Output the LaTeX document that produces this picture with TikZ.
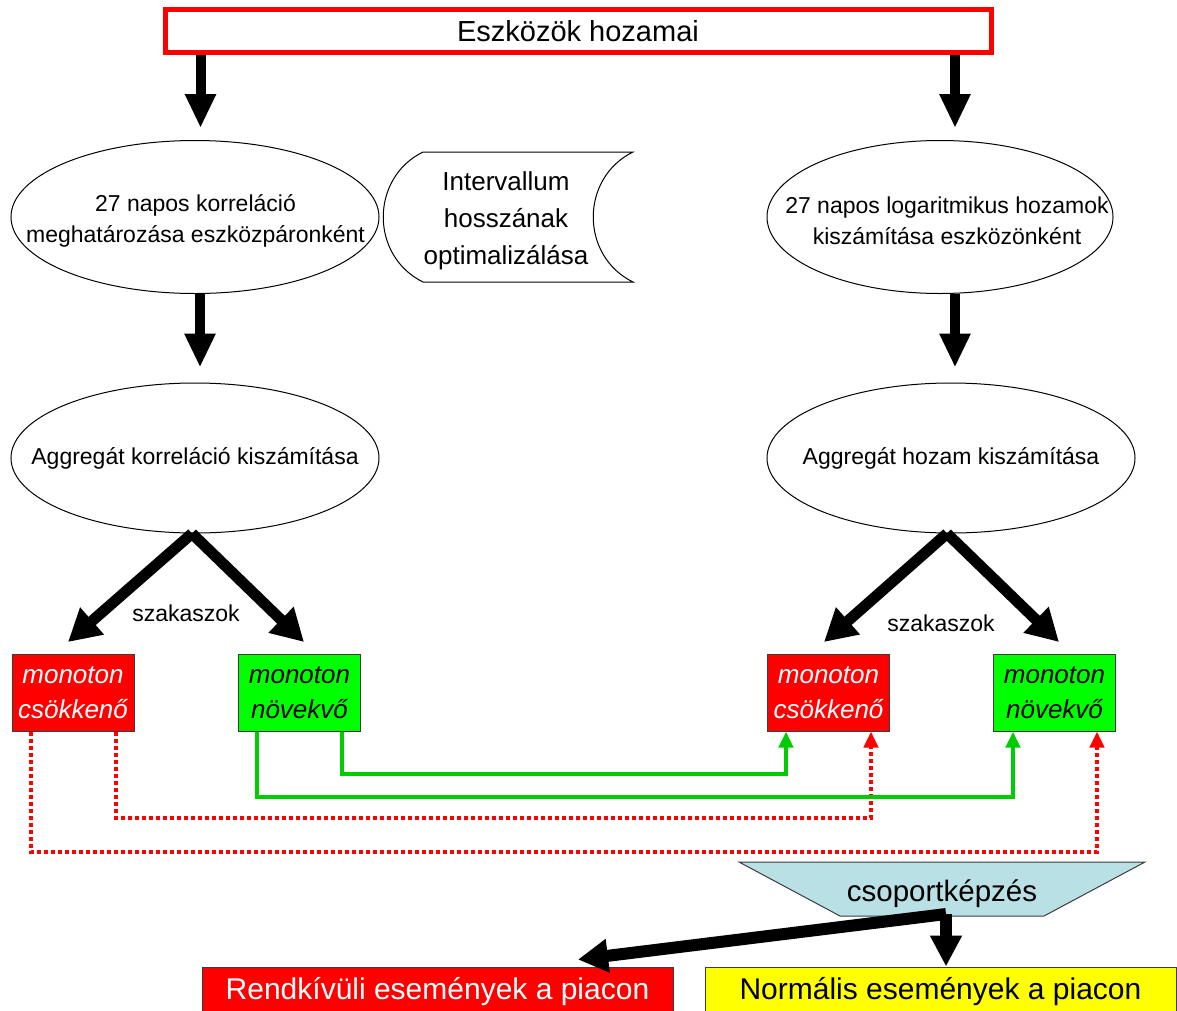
\documentclass[tikz,border=0pt]{standalone}
\usepackage{fontspec}
\setmainfont{Liberation Sans}
\usetikzlibrary{arrows.meta,shapes.geometric}
\definecolor{boxred}{RGB}{255,0,0}
\definecolor{boxgreen}{RGB}{0,255,0}
\definecolor{linegreen}{RGB}{0,204,0}
\definecolor{trapblue}{RGB}{185,224,228}
\definecolor{edgegray}{RGB}{60,60,60}
\definecolor{boxyellow}{RGB}{255,255,0}
\begin{document}
\begin{tikzpicture}[x=1pt,y=-1pt,
  ellshape/.style={ellipse, draw, line width=1pt, inner sep=0pt},
  etext/.style={align=center, inner sep=0pt, font=\fontsize{23}{31}\selectfont},
  bigarrow/.style={line width=10pt, -{Triangle[width=29pt,length=34pt]}},
  diagarrow/.style={line width=11pt, -{Triangle[width=34pt,length=32pt]}},
  segbox/.style={draw=edgegray, line width=1pt, minimum width=122pt, minimum height=77pt, inner sep=0pt, align=center, font=\itshape\fontsize{26}{35}\selectfont},
  decbox/.style={segbox, fill=boxred, text=white},
  incbox/.style={segbox, fill=boxgreen, text=black},
  grnlink/.style={color=linegreen, line width=4pt, -{Triangle[width=14pt,length=16pt]}},
  redlink/.style={color=boxred, line width=4pt, dash pattern=on 4pt off 3pt, -{Triangle[width=14pt,length=16pt]}},
  evbox/.style={draw=edgegray, line width=1pt, minimum width=471pt, minimum height=50pt, inner sep=0pt, font=\fontsize{30}{36}\selectfont}
]
\useasboundingbox (0,0) rectangle (1177,1010);

% top box
\node[draw=boxred, line width=5pt, minimum width=826pt, minimum height=43pt, inner sep=0pt,
      font=\fontsize{29}{34}\selectfont] (top) at (578,31) {Eszközök hozamai};

% ellipses
\node[ellshape, minimum width=368pt, minimum height=153pt] (e1) at (195,217) {};
\node[etext] (e1t) at (195.5,221) {27 napos korreláció\\meghatározása eszközpáronként};
\node[ellshape, minimum width=346pt, minimum height=153pt] (e2) at (940,217) {};
\node[etext] (e2t) at (947,221) {27 napos logaritmikus hozamok\\kiszámítása eszközönként};
\node[ellshape, minimum width=368pt, minimum height=150pt] (e3) at (195,458) {};
\node[etext] (e3t) at (195,458) {Aggregát korreláció kiszámítása};
\node[ellshape, minimum width=368pt, minimum height=150pt] (e4) at (951,458) {};
\node[etext] (e4t) at (951,458) {Aggregát hozam kiszámítása};

% interval optimisation shape
\draw[line width=1pt] (423,152) -- (633,152) .. controls (580,178) and (580,256) .. (633,282)
   -- (423,282) .. controls (370,256) and (370,178) .. (423,152) -- cycle;
\node[align=center, inner sep=0pt, font=\fontsize{26}{37}\selectfont] (iv) at (506,220.5)
   {Intervallum\\hosszának\\optimalizálása};

% vertical arrows
\draw[bigarrow] ([xshift=-377.5pt]top.south) -- ([xshift=5.5pt,yshift=12pt]e1.north);
\draw[bigarrow] ([xshift=377pt]top.south) -- ([xshift=15pt,yshift=12pt]e2.north);
\draw[bigarrow] ([xshift=5pt]e1.south) -- ([xshift=5pt,yshift=15pt]e3.north);
\draw[bigarrow] ([xshift=15pt]e2.south) -- ([xshift=4pt,yshift=15pt]e4.north);

% segment boxes
\node[decbox] (r1) at (73,692.5) {monoton\\csökkenő};
\node[incbox] (g1) at (299.5,692.5) {monoton\\növekvő};
\node[decbox] (r2) at (828.5,692.5) {monoton\\csökkenő};
\node[incbox] (g2) at (1054.5,692.5) {monoton\\növekvő};

% diagonal arrows
\draw[diagarrow] ([xshift=-3pt]e3.south) -- ([xshift=-5pt,yshift=11.5pt]r1.north);
\draw[diagarrow] ([xshift=-3pt]e3.south) -- ([xshift=4.5pt,yshift=11.5pt]g1.north);
\draw[diagarrow] ([xshift=-4pt]e4.south) -- ([xshift=-4.5pt,yshift=11.5pt]r2.north);
\draw[diagarrow] ([xshift=-4pt]e4.south) -- ([xshift=4.5pt,yshift=11.5pt]g2.north);
\node[etext] (sz1) at (186,613) {szakaszok};
\node[etext] (sz2) at (941,623) {szakaszok};

% links
\draw[redlink] ([xshift=-42pt]r1.south) -- ++(0,120) -| ([xshift=42.5pt]g2.south);
\draw[redlink] ([xshift=43pt]r1.south) -- ++(0,86) -| ([xshift=42.5pt]r2.south);
\draw[grnlink] ([xshift=-42.5pt]g1.south) -- ++(0,65) -| ([xshift=-41.5pt]g2.south);
\draw[grnlink] ([xshift=42.5pt]g1.south) -- ++(0,42) -| ([xshift=-42.5pt]r2.south);

% grouping trapezoid
\draw[draw=edgegray, line width=1pt, fill=trapblue] (739,862) -- (1145,862) -- (1044,916) -- (840,916) -- cycle;
\node[inner sep=0pt, font=\fontsize{29.5}{36}\selectfont] (cs) at (942,894) {csoportképzés};

% event boxes
\node[evbox, fill=boxred, text=white] (rare) at (437.5,992) {Rendkívüli események a piacon};
\node[evbox, fill=boxyellow] (norm) at (940.5,992) {Normális események a piacon};

% bottom arrows
\draw[line width=12pt, -{Triangle[width=32pt,length=30pt]}] ([xshift=4pt,yshift=-20pt]cs.center) -- ([xshift=140.5pt,yshift=7pt]rare.north);
\draw[line width=12pt, -{Triangle[width=30pt,length=31pt]}] ([xshift=4pt,yshift=-20pt]cs.center) -- ([xshift=5.5pt]norm.north);
\end{tikzpicture}
\end{document}
